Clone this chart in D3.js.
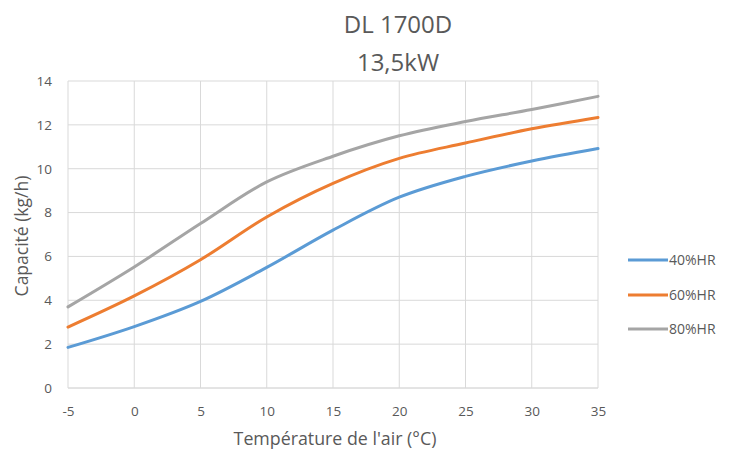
<!DOCTYPE html>
<html><head><meta charset="utf-8">
<script src="https://cdn.jsdelivr.net/npm/d3@7"></script>
<style>body{margin:0;background:#fff}svg{display:block}text{font-family:"Open Sans","Noto Sans",sans-serif;fill:#595959}</style>
</head><body><svg id="c" width="729" height="452"></svg>
<script>
const temps = [-5, 0, 5, 10, 15, 20, 25, 30, 35];
const hr40 = [1.85, 2.8, 3.95, 5.5, 7.2, 8.7, 9.65, 10.35, 10.92];
const hr60 = [2.78, 4.2, 5.85, 7.8, 9.33, 10.47, 11.17, 11.82, 12.34];
const hr80 = [3.7, 5.52, 7.5, 9.4, 10.57, 11.5, 12.15, 12.7, 13.3];
const seriesNames = ["40%HR", "60%HR", "80%HR"];
const yTicks = [0, 2, 4, 6, 8, 10, 12, 14];
const titleLines = ["DL 1700D", "13,5kW"];
const xTitle = "Température de l'air (°C)";
const yTitle = "Capacité (kg/h)";

const colors = ["#5B9BD5", "#ED7D31", "#A5A5A5"];
const series = [hr40, hr60, hr80];
const svg = d3.select("#c");
const L = 68, R = 598, T = 81, B = 388;
const x = d3.scaleLinear().domain([-5, 35]).range([L, R]);
const y = d3.scaleLinear().domain([0, 14]).range([B, T]);

// gridlines
svg.append("g").selectAll("line").data(yTicks).join("line")
  .attr("x1", L).attr("x2", R).attr("y1", d => y(d)).attr("y2", d => y(d))
  .attr("stroke", d => d === 0 ? "#c8c8c8" : "#d9d9d9").attr("stroke-width", 1);
svg.append("g").selectAll("line").data(temps).join("line")
  .attr("y1", T).attr("y2", B).attr("x1", d => x(d)).attr("x2", d => x(d))
  .attr("stroke", "#d9d9d9").attr("stroke-width", 1);

// axes labels
const yAxis = d3.axisLeft(y).tickValues(yTicks).tickSize(0).tickPadding(16);
const gy = svg.append("g").attr("transform", `translate(${L},0)`).call(yAxis);
gy.select(".domain").remove();
gy.selectAll("text").style("font-size", "13.5px").attr("fill", "#595959");
const xAxis = d3.axisBottom(x).tickValues(temps).tickSize(0).tickPadding(18)
  .tickFormat(d => String(d));
const gx = svg.append("g").attr("transform", `translate(0,${B})`).call(xAxis);
gx.select(".domain").remove();
gx.selectAll("text").style("font-size", "13.5px").attr("fill", "#595959");

// lines
const line = d3.line().x((d, i) => x(temps[i])).y(d => y(d)).curve(d3.curveCatmullRom.alpha(0.5));
series.forEach((s, k) => {
  svg.append("path").datum(s).attr("d", line).attr("fill", "none")
    .attr("stroke", colors[k]).attr("stroke-width", 3).attr("stroke-linecap", "round");
});

// titles
svg.append("text").attr("x", 398).attr("y", 33).attr("text-anchor", "middle")
  .style("font-size", "24px").text(titleLines[0]);
svg.append("text").attr("x", 398).attr("y", 71).attr("text-anchor", "middle")
  .style("font-size", "24px").text(titleLines[1]);
svg.append("text").attr("x", 335).attr("y", 445).attr("text-anchor", "middle")
  .style("font-size", "17.8px").text(xTitle);
svg.append("text").attr("transform", `translate(28,${236}) rotate(-90)`)
  .attr("text-anchor", "middle").style("font-size", "17.5px").text(yTitle);

// legend
const ly = [260, 295, 329];
seriesNames.forEach((n, k) => {
  svg.append("line").attr("x1", 628).attr("x2", 668).attr("y1", ly[k]).attr("y2", ly[k])
    .attr("stroke", colors[k]).attr("stroke-width", 3);
  svg.append("text").attr("x", 669).attr("y", ly[k] + 5).style("font-size", "14px").text(n);
});
</script></body></html>
